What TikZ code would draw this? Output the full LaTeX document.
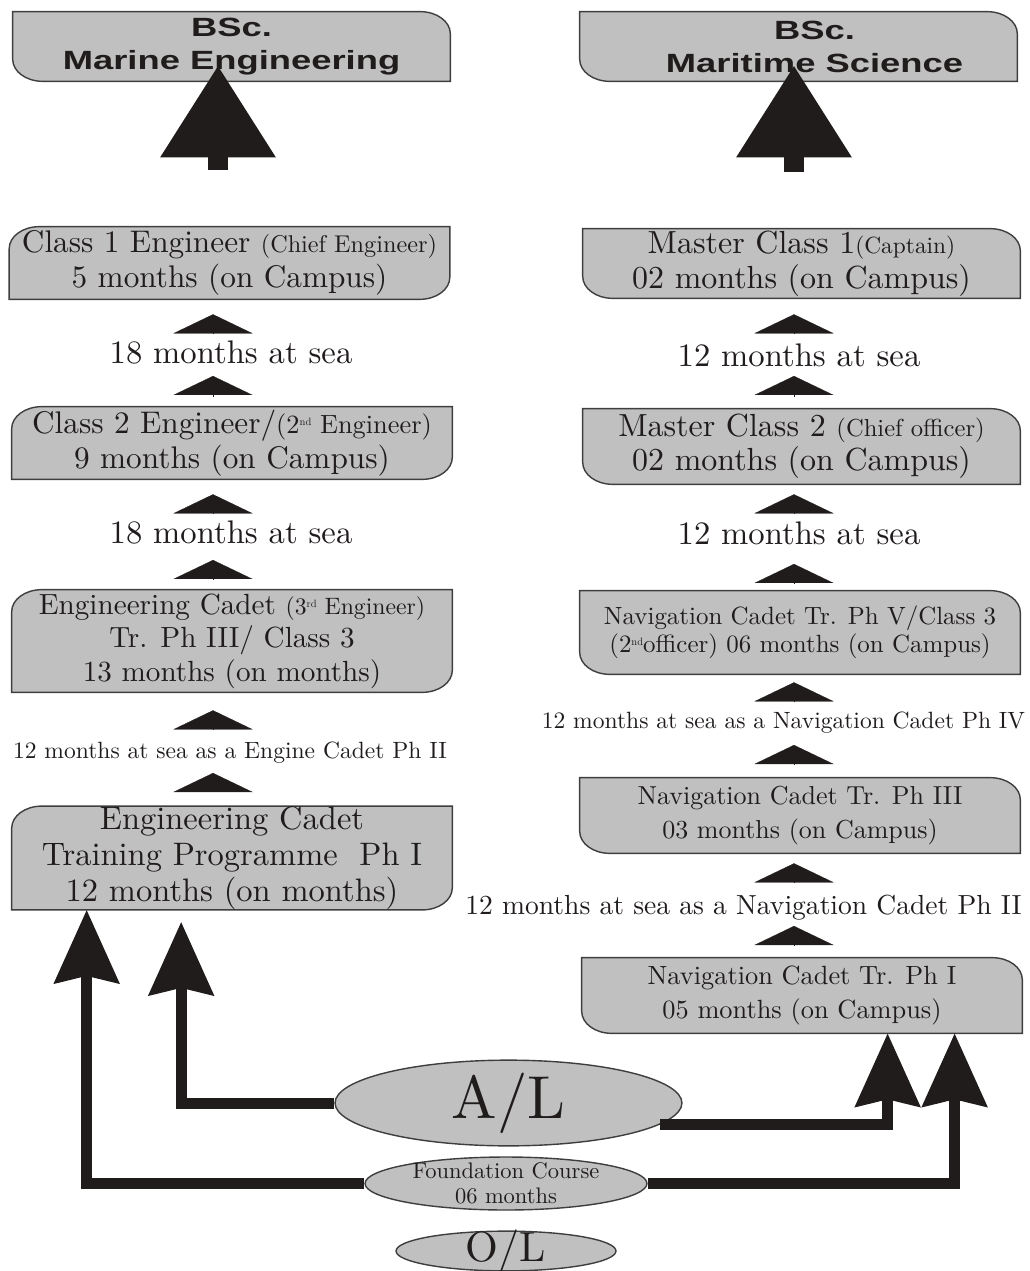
\documentclass[tikz,border=0pt]{standalone}
\usepackage{fontspec}
\setmainfont{lmroman10-regular}[Extension=.otf]
\usetikzlibrary{arrows.meta,shapes.geometric,backgrounds}
\newfontfamily\headfont[FakeStretch=1.38]{Liberation Sans}
\definecolor{boxfill}{RGB}{192,192,192}
\definecolor{boxedge}{RGB}{62,62,62}
\definecolor{ink}{RGB}{32,28,28}
\newcommand{\fs}[2]{\fontsize{#1}{#2}\selectfont}
\newcommand{\ordsup}[1]{\raisebox{0.7ex}{\fontsize{6}{6}\selectfont #1}}

\begin{document}
\begin{tikzpicture}[x=0.02cm, y=-0.02cm, text=ink,
  box/.style={inner sep=0pt, align=center, minimum width=8.8cm},
  head/.style={inner sep=0pt, align=center, minimum width=8.74cm, minimum height=1.38cm, font=\headfont\bfseries\fs{15}{18.8}},
  sea/.style={inner sep=0pt, align=center, font=\fs{18.6}{21}},
  oval/.style={ellipse, draw=boxedge, fill=boxfill, line width=0.8pt, inner sep=0pt},
  edge/.style={draw=boxedge, fill=boxfill, line width=0.8pt},
  tri/.style={-{Triangle[width=1.58cm, length=0.38cm]}, ink, line width=0.1pt},
  bigarrow/.style={-{Triangle[width=2.2cm, length=1.84cm]}, ink, line width=0.4cm, shorten <=1.14cm, shorten >=-0.32cm},
  route/.style={-{Stealth[length=1.46cm, width=1.28cm, inset=0.14cm]}, ink, line width=0.22cm}]

  \useasboundingbox (0,0) rectangle (1030,1271);

  \coordinate (axL) at (213,0);
  \coordinate (axB) at (218,0);
  \coordinate (axR) at (794,0);

  % marine engineering
  \node[head] (bscme) at (231.5,46.5) {BSc.\\Marine Engineering};
  \node[box, minimum height=1.44cm, font=\fs{17.8}{20}] (ce1) at (229.5,263) {Class 1 Engineer {\fs{13.8}{16}(Chief Engineer)}\\5 months (on Campus)};
  \node[sea] (seaE4) at (231,353) {18 months at sea};
  \node[box, minimum height=1.44cm, font=\fs{17.8}{20}] (ce2) at (232,443) {Class 2 Engineer/{\fs{15}{16}(2\ordsup{nd} Engineer)}\\9 months (on Campus)};
  \node[sea] (seaE3) at (231,533) {18 months at sea};
  \node[box, minimum height=2.04cm, font=\fs{16.6}{19}] (ec3) at (232,641) {Engineering Cadet {\fs{13.5}{16}(3\ordsup{rd} Engineer)}\\Tr. Ph III/ Class 3\\13 months (on months)};
  \node[sea, font=\fs{13.4}{15}] (seaE2) at (230,753) {12 months at sea as a Engine Cadet Ph II};
  \node[box, minimum height=2.04cm, font=\fs{18.5}{20.5}] (ec1) at (232,858) {Engineering Cadet\\Training Programme\ \ Ph I\\12 months (on months)};

  % maritime science
  \node[head] (bscms) at (798.5,46.5) {\hspace*{0.64cm}BSc.\\\hspace*{0.64cm}Maritime Science};
  \node[box, minimum width=8.74cm, minimum height=1.38cm, font=\fs{18.2}{20}] (mc1) at (801.5,263.5) {Master Class 1{\fs{13.3}{16}(Captain)}\\02 months (on Campus)};
  \node[sea] (seaM2) at (799,355) {12 months at sea};
  \node[box, minimum width=8.74cm, minimum height=1.5cm, font=\fs{18.2}{19.5}] (mc2) at (801.5,446.5) {Master Class 2 {\fs{14}{16}(Chief officer)}\\02 months (on Campus)};
  \node[sea] (seaM1) at (799,533) {12 months at sea};
  \node[box, minimum height=1.66cm, font=\fs{14.2}{16}] (nv5) at (800,632.5) {Navigation Cadet Tr. Ph V/Class 3\\(2\ordsup{nd}officer) 06 months (on Campus)};
  \node[sea, font=\fs{13.4}{15}] (seaN4) at (783.5,723) {12 months at sea as a Navigation Cadet Ph IV};
  \node[box, minimum height=1.5cm, font=\fs{14.8}{19}] (nv3) at (800,815.5) {Navigation Cadet Tr. Ph III\\03 months (on Campus)};
  \node[sea, font=\fs{15.7}{18}] (seaN2) at (743.5,908) {12 months at sea as a Navigation Cadet Ph II};
  \node[box, minimum height=1.5cm, font=\fs{15}{19}] (nv1) at (802,995.5) {Navigation Cadet Tr. Ph I\\05 months (on Campus)};

  % entry levels
  \node[oval, minimum width=6.94cm, minimum height=1.32cm, font=\fs{34.5}{38}] (al) at (508.5,1103) {A/L};
  \node[oval, minimum width=5.64cm, minimum height=1.06cm, inner ysep=-4pt, align=center, font=\fs{12.8}{14.5}] (fc) at (506,1183.5) {Foundation Course\\06 months};
  \node[oval, minimum width=4.4cm, minimum height=0.76cm, inner ysep=-4pt, font=\fs{24}{26}] (ol) at (506,1251) {O/L};

  \begin{scope}[on background layer]
    \foreach \b in {ce1,ce2,ec3,ec1}
      \draw[edge] (\b.south west) -- ([yshift=-0.44cm]\b.north west) arc[start angle=180, end angle=90, x radius=0.6cm, y radius=0.44cm] -- (\b.north east) -- ([yshift=0.44cm]\b.south east) arc[start angle=0, end angle=-90, x radius=0.6cm, y radius=0.44cm] -- cycle;
    \foreach \b in {bscme,bscms,mc1,mc2,nv5,nv3,nv1}
      \draw[edge] (\b.north west) -- ([xshift=-0.6cm]\b.north east) arc[start angle=90, end angle=0, x radius=0.6cm, y radius=0.44cm] -- (\b.south east) -- ([xshift=0.6cm]\b.south west) arc[start angle=270, end angle=180, x radius=0.6cm, y radius=0.44cm] -- cycle;
  \end{scope}

  \foreach \a/\b/\x/\p/\q in {ce2/seaE4/axL/0.2/0.46, ec3/seaE3/axL/0.22/0.54, ec1/seaE2/axL/0.3/0.4, mc2/seaM2/axR/0.24/0.42, nv5/seaM1/axR/0.16/0.62, nv3/seaN4/axR/0.28/0.44, nv1/seaN2/axR/0.26/0.36}
    \draw[tri, shorten <=\p cm, shorten >=\q cm] (\a.north -| \x) -- (\b.center -| \x);
  \foreach \a/\b/\x/\p/\q in {seaE4/ce1/axL/0.4/0.3, seaE3/ce2/axL/0.4/0.3, seaE2/ec3/axL/0.48/0.36, seaM2/mc1/axR/0.44/0.32, seaM1/mc2/axR/0.4/0.2, seaN4/nv5/axR/0.42/0.16, seaN2/nv3/axR/0.52/0.2}
    \draw[tri, shorten <=\p cm, shorten >=\q cm] (\a.center -| \x) -- (\b.south -| \x);

  \draw[bigarrow] (ce1.north -| axB) -- (bscme.south -| axB);
  \draw[bigarrow] (mc1.north -| axR) -- (bscms.south -| axR);

  \draw[route] (fc.west) -| ([xshift=1.5cm]ec1.south west);
  \draw[route, shorten >=0.24cm] (al.west) -| ([xshift=3.39cm]ec1.south west);
  \draw[route] (al.-8) -| ([xshift=6.12cm]nv1.south west);
  \draw[route] (fc.east) -| ([xshift=7.46cm]nv1.south west);
\end{tikzpicture}
\end{document}
